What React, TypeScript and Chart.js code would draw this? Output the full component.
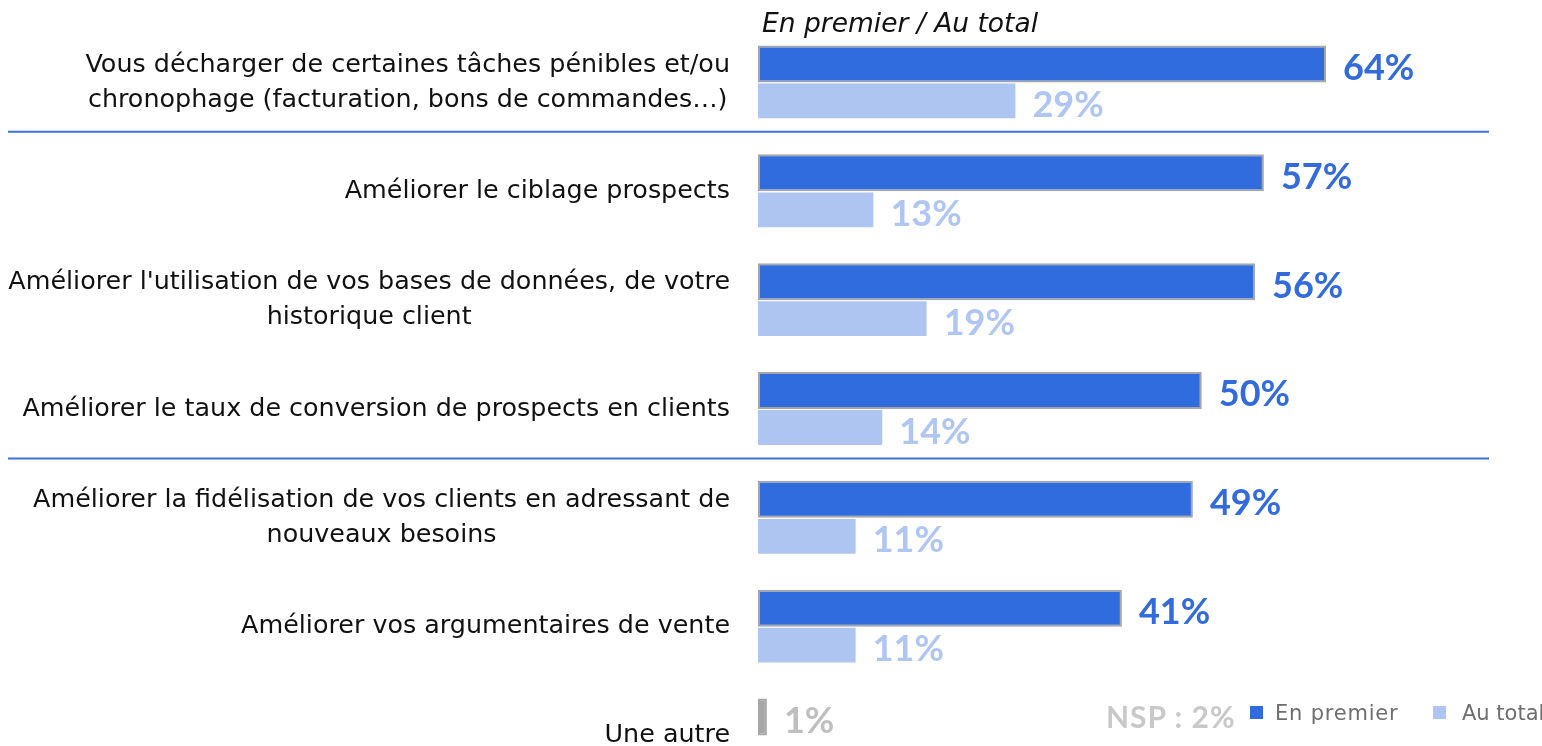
import React, { useEffect, useRef } from "react";
import { Chart, registerables } from "chart.js";

Chart.register(...registerables);

const categories: string[][] = [
  ["Vous décharger de certaines tâches pénibles et/ou", "chronophage (facturation, bons de commandes…)"],
  ["Améliorer le ciblage prospects"],
  ["Améliorer l'utilisation de vos bases de données, de votre", "historique client"],
  ["Améliorer le taux de conversion de prospects en clients"],
  ["Améliorer la fidélisation de vos clients en adressant de", "nouveaux besoins"],
  ["Améliorer vos argumentaires de vente"],
  ["Une autre"],
];
const enPremier: number[] = [64, 57, 56, 50, 49, 41, 1];
const auTotal: (number | null)[] = [29, 13, 19, 14, 11, 11, null];
const separatorsAfter: number[] = [0, 3];
const headerText = "En premier / Au total";
const legendLabels = ["En premier", "Au total"];
const nspText = "NSP : 2%";

const DARK = "#316CDE";
const LIGHT = "#AEC5F2";
const GRAY = "#A6A6A6";
const DARK_LABEL = "#326BDB";
const LIGHT_LABEL = "#AFC6F2";
const GRAY_LABEL = "#BFBFBF";
const FONT = '"DejaVu Sans", sans-serif';
const LABEL_FONT = 'Lato, "Open Sans", sans-serif';

export default function App() {
  const ref = useRef<HTMLCanvasElement | null>(null);

  useEffect(() => {
    document.body.style.margin = "0";
    document.body.style.overflow = "hidden";
    const canvas = ref.current;
    if (!canvas) return;
    const n = enPremier.length;

    const overlay = {
      id: "overlay",
      afterDraw(chart: any) {
        const ctx = chart.ctx;
        const ys = chart.scales.y;
        const area = chart.chartArea;
        ctx.save();
        // category labels
        ctx.font = `25.4px ${FONT}`;
        ctx.fillStyle = "#111111";
        ctx.textAlign = "center";
        ctx.textBaseline = "middle";
        const lineH = 35;
        categories.forEach((lines, i) => {
          const yc = ys.getPixelForValue(i);
          const bw = Math.max(...lines.map((l) => ctx.measureText(l).width));
          const right = area.left - 28;
          const cx = right - bw / 2;
          lines.forEach((l, j) => {
            ctx.fillText(l, cx, yc + (j - (lines.length - 1) / 2) * lineH);
          });
        });
        // separators
        ctx.strokeStyle = "#3A70DB";
        ctx.lineWidth = 2;
        separatorsAfter.forEach((i) => {
          const y = (ys.getPixelForValue(i) + ys.getPixelForValue(i + 1)) / 2 - 5;
          ctx.beginPath();
          ctx.moveTo(8, y);
          ctx.lineTo(1489, y);
          ctx.stroke();
        });
        // header
        ctx.font = `oblique 26.5px ${FONT}`;
        ctx.fillStyle = "#111111";
        ctx.textAlign = "left";
        ctx.textBaseline = "alphabetic";
        ctx.fillText(headerText, area.left + 4, area.top + 4);
        // value labels
        ctx.font = `bold 36px ${LABEL_FONT}`;
        [0, 1].forEach((d) => {
          const meta = chart.getDatasetMeta(d);
          const vals = d === 0 ? enPremier : auTotal;
          meta.data.forEach((bar: any, i: number) => {
            const v = vals[i];
            if (v === null || v === undefined) return;
            const isOther = i === n - 1;
            ctx.fillStyle = isOther ? GRAY_LABEL : d === 0 ? DARK_LABEL : LIGHT_LABEL;
            ctx.fillText(`${v}%`, bar.x + 17, bar.y + 16);
          });
        });
        ctx.restore();
      },
    };

    const chart = new Chart(canvas, {
      type: "bar",
      data: {
        labels: categories.map((c) => c.join(" ")),
        datasets: [
          {
            label: legendLabels[0],
            data: enPremier,
            backgroundColor: enPremier.map((_, i) => (i === n - 1 ? GRAY : DARK)),
            borderColor: GRAY,
            borderWidth: 2,
            borderSkipped: false,
            barPercentage: 1,
            categoryPercentage: 0.68,
          },
          {
            label: legendLabels[1],
            data: auTotal,
            backgroundColor: LIGHT,
            borderWidth: 0,
            barPercentage: 0.94,
            categoryPercentage: 0.68,
          },
        ],
      },
      options: {
        indexAxis: "y",
        animation: false,
        responsive: true,
        maintainAspectRatio: false,
        layout: { padding: { top: 28, right: 74, bottom: 0, left: 0 } },
        plugins: {
          legend: { display: false },
          tooltip: { enabled: false },
          title: { display: false },
        },
        scales: {
          x: { display: false, min: 0, max: 80 },
          y: {
            ticks: { display: false },
            grid: { display: false },
            border: { display: false },
            afterFit: (s: any) => {
              s.width = 758;
            },
          },
        },
      },
      plugins: [overlay],
    });
    return () => chart.destroy();
  }, []);

  const sq = (c: string, left: number) => (
    <div style={{ position: "absolute", left, top: 706, width: 13, height: 13, background: c }} />
  );
  const txt: React.CSSProperties = {
    position: "absolute",
    top: 699,
    fontFamily: FONT,
    fontSize: 21,
    color: "#6E6E6E",
    lineHeight: "28px",
    whiteSpace: "nowrap",
  };

  return (
    <div style={{ position: "relative", width: 1542, height: 746, overflow: "hidden", background: "#fff" }}>
      <div style={{ position: "absolute", left: 0, top: 0, width: 1542, height: 790 }}>
        <canvas ref={ref} />
      </div>
      <div
        style={{
          position: "absolute",
          left: 1106,
          top: 699,
          fontFamily: LABEL_FONT,
          fontWeight: 700,
          fontSize: 30,
          letterSpacing: 1,
          color: "#C8C8C8",
          lineHeight: "34px",
          whiteSpace: "nowrap",
        }}
      >
        {nspText}
      </div>
      {sq(DARK, 1250)}
      <div style={{ ...txt, left: 1275, letterSpacing: 0.8 }}>{legendLabels[0]}</div>
      {sq(LIGHT, 1433)}
      <div style={{ ...txt, left: 1462 }}>{legendLabels[1]}</div>
    </div>
  );
}
